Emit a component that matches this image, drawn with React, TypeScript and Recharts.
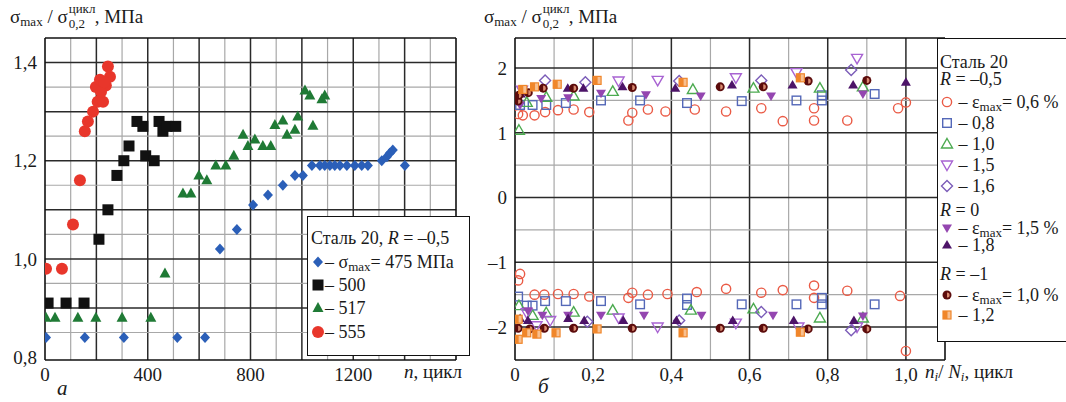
import React from "react";
import { ScatterChart, Scatter, XAxis, YAxis, ReferenceLine } from "recharts";

type Pt = [number, number];

const SERIF = '"Liberation Serif", "Times New Roman", Tinos, "DejaVu Serif", serif';

// left panel (а): sigma_max / sigma_0,2 vs n
const leftXTicks = [0, 400, 800, 1200];
const leftYTicks = [0.8, 1.0, 1.2, 1.4];
const leftMajorX = [200, 400, 600, 800, 1000, 1200, 1400];
const leftMinorX = [100, 300, 500, 700, 900, 1100, 1300, 1500];
const leftMajorY = [0.9, 1.0, 1.1, 1.2, 1.3, 1.4];
const leftMinorY = [0.85, 0.95, 1.05, 1.15, 1.25, 1.35];

const blue475: Pt[] = [
  [4, 0.84], [155, 0.84], [307, 0.84], [515, 0.84], [623, 0.84], [681, 1.02],
  [747, 1.06], [810, 1.11], [868, 1.13], [926, 1.15], [973, 1.17], [1004, 1.17],
  [1039, 1.19], [1070, 1.19], [1089, 1.19], [1109, 1.19], [1128, 1.19], [1148, 1.19],
  [1175, 1.19], [1206, 1.19], [1233, 1.19], [1257, 1.19], [1311, 1.2], [1331, 1.208],
  [1342, 1.215], [1354, 1.222], [1401, 1.19],
];
const black500: Pt[] = [
  [12, 0.91], [82, 0.91], [152, 0.91], [210, 1.04], [245, 1.1], [280, 1.17],
  [307, 1.2], [327, 1.23], [358, 1.28], [381, 1.27], [392, 1.21], [425, 1.2],
  [444, 1.28], [459, 1.26], [474, 1.27], [509, 1.27],
];
const green517: Pt[] = [
  [4, 0.88], [39, 0.88], [128, 0.88], [198, 0.88], [300, 0.88], [412, 0.88],
  [467, 0.97], [537, 1.133], [568, 1.133], [599, 1.17], [630, 1.16], [665, 1.19],
  [704, 1.19], [735, 1.21], [771, 1.253], [790, 1.23], [817, 1.243], [848, 1.23],
  [879, 1.23], [895, 1.273], [926, 1.282], [942, 1.253], [973, 1.263], [984, 1.29],
  [1012, 1.343], [1031, 1.333], [1043, 1.271], [1078, 1.325], [1089, 1.333],
];
const red555: Pt[] = [
  [4, 0.98], [66, 0.98], [109, 1.07], [136, 1.16], [155, 1.26], [167, 1.28],
  [187, 1.3], [205, 1.32], [226, 1.32], [198, 1.35], [214, 1.365], [237, 1.353],
  [253, 1.371], [245, 1.392], [218, 1.34], [230, 1.36],
];

// right panel (б): sigma_max / sigma_0,2 vs ni/Ni
const rightXTicks = [0, 0.2, 0.4, 0.6, 0.8, 1.0];
const rightYTicks = [-2, -1, 0, 1, 2];
const rightMajorX = [0.2, 0.4, 0.6, 0.8, 1.0];
const rightMinorX = [0.1, 0.3, 0.5, 0.7, 0.9];
const rightMajorY = [-2, -1, 0, 1, 2];
const rightMinorY = [-1.5, -0.5, 0.5, 1.5];

const eps06: Pt[] = [
  [0.008, 1.29], [0.02, 1.27], [0.05, 1.27], [0.077, 1.32], [0.11, 1.35], [0.15, 1.36],
  [0.19, 1.32], [0.29, 1.19], [0.3, 1.31], [0.34, 1.36], [0.385, 1.33], [0.46, 1.36],
  [0.54, 1.33], [0.63, 1.38], [0.685, 1.18], [0.765, 1.38], [0.765, 1.19], [0.85, 1.19],
  [0.98, 1.38], [1.0, 1.47],
  [0.008, -1.28], [0.013, -1.18], [0.05, -1.5], [0.075, -1.5], [0.11, -1.49], [0.15, -1.49],
  [0.19, -1.53], [0.29, -1.55], [0.3, -1.47], [0.34, -1.5], [0.39, -1.49], [0.465, -1.46],
  [0.54, -1.41], [0.63, -1.47], [0.685, -1.43], [0.765, -1.36], [0.765, -1.55], [0.85, -1.44],
  [0.985, -1.52], [1.0, -2.37],
];
const eps08: Pt[] = [
  [0.013, 1.43], [0.045, 1.43], [0.08, 1.43], [0.13, 1.46], [0.22, 1.5], [0.32, 1.5],
  [0.44, 1.46], [0.58, 1.49], [0.72, 1.5], [0.785, 1.5], [0.785, 1.58], [0.92, 1.6],
  [0.008, -1.53], [0.03, -1.67], [0.045, -1.67], [0.077, -1.6], [0.13, -1.6], [0.22, -1.6],
  [0.32, -1.65], [0.44, -1.56], [0.44, -1.66], [0.58, -1.65], [0.72, -1.65], [0.785, -1.55],
  [0.785, -1.65], [0.92, -1.65],
];
const eps10: Pt[] = [
  [0.01, 1.04], [0.03, 1.47], [0.08, 1.55], [0.15, 1.57], [0.25, 1.64], [0.455, 1.67],
  [0.61, 1.69], [0.78, 1.69], [0.89, 1.71],
  [0.01, -1.67], [0.045, -1.82], [0.08, -1.78], [0.15, -1.77], [0.25, -1.74], [0.45, -1.74],
  [0.61, -1.72], [0.78, -1.86], [0.89, -1.86],
];
const eps15: Pt[] = [
  [0.018, 1.66], [0.265, 1.8], [0.365, 1.81], [0.565, 1.85], [0.72, 1.93], [0.875, 2.15],
  [0.03, -1.78], [0.055, -1.98], [0.09, -1.9], [0.265, -1.86], [0.365, -2.0], [0.565, -1.94],
  [0.725, -2.0], [0.875, -2.0],
];
const eps16: Pt[] = [
  [0.077, 1.81], [0.18, 1.78], [0.42, 1.8], [0.63, 1.81], [0.86, 1.97],
  [0.185, -1.92], [0.42, -1.9], [0.63, -1.77], [0.86, -2.05],
];
const r0eps15: Pt[] = [
  [0.013, 1.43], [0.067, 1.53], [0.136, 1.54], [0.22, 1.61], [0.335, 1.59], [0.475, 1.57],
  [0.655, 1.57], [0.89, 1.6],
  [0.033, -1.75], [0.07, -1.82], [0.136, -1.82], [0.22, -1.82], [0.33, -1.82], [0.477, -1.82],
  [0.66, -1.82], [0.89, -1.83],
];
const r0eps18: Pt[] = [
  [0.015, 1.6], [0.135, 1.69], [0.175, 1.69], [0.275, 1.71], [0.41, 1.69], [0.555, 1.74],
  [0.71, 1.74], [0.865, 1.74], [1.0, 1.78],
  [0.013, -1.87], [0.033, -1.9], [0.136, -1.87], [0.177, -1.9], [0.277, -1.9], [0.413, -1.9],
  [0.557, -1.9], [0.713, -1.9], [0.867, -1.9],
];
const rm1eps10: Pt[] = [
  [0.008, 1.49], [0.01, 1.58], [0.034, 1.62], [0.072, 1.69], [0.15, 1.69], [0.3, 1.7],
  [0.525, 1.71], [0.635, 1.71], [0.75, 1.8], [0.9, 1.81],
  [0.008, -2.02], [0.038, -2.03], [0.075, -2.02], [0.15, -2.02], [0.3, -2.02], [0.525, -2.02],
  [0.635, -2.02], [0.75, -2.03], [0.9, -2.03],
];
const rm1eps12: Pt[] = [
  [0.02, 1.67], [0.05, 1.71], [0.108, 1.75], [0.21, 1.81], [0.43, 1.78], [0.73, 1.85],
  [0.008, -1.88], [0.008, -2.19], [0.03, -2.09], [0.056, -2.11], [0.105, -2.09], [0.21, -2.03],
  [0.43, -2.09], [0.73, -2.08],
];

type Kind =
  | "diamond" | "square" | "triangle" | "circle"
  | "oCircle" | "oSquare" | "oTri" | "oTriDown" | "oDiamond"
  | "triDown" | "tri" | "halfCircle" | "halfSquare";

const C = {
  blue: "#2b5fb8",
  black: "#111111",
  green: "#1f7a35",
  red: "#e8362b",
  oRed: "#ea5a45",
  oBlue: "#5468b8",
  oGreen: "#4caa50",
  oPurple: "#a863d2",
  oDiamond: "#7b5cb8",
  fPurple: "#9446b0",
  fDark: "#4d1468",
  halfCirc: "#5c0c0c",
  halfSq: "#f0862a",
};

function marker(kind: Kind, cx: number, cy: number) {
  switch (kind) {
    case "diamond":
      return <polygon points={`${cx},${cy - 5.5} ${cx + 5},${cy} ${cx},${cy + 5.5} ${cx - 5},${cy}`} fill={C.blue} />;
    case "square":
      return <rect x={cx - 5.5} y={cy - 5.5} width={11} height={11} fill={C.black} />;
    case "triangle":
      return <polygon points={`${cx},${cy - 6} ${cx + 5.5},${cy + 4} ${cx - 5.5},${cy + 4}`} fill={C.green} />;
    case "circle":
      return <circle cx={cx} cy={cy} r={6} fill={C.red} />;
    case "oCircle":
      return <circle cx={cx} cy={cy} r={4.6} fill="none" stroke={C.oRed} strokeWidth={1.4} />;
    case "oSquare":
      return <rect x={cx - 4.3} y={cy - 4.3} width={8.6} height={8.6} fill="none" stroke={C.oBlue} strokeWidth={1.4} />;
    case "oTri":
      return <polygon points={`${cx},${cy - 5.5} ${cx + 5.5},${cy + 4} ${cx - 5.5},${cy + 4}`} fill="none" stroke={C.oGreen} strokeWidth={1.4} />;
    case "oTriDown":
      return <polygon points={`${cx},${cy + 5.5} ${cx + 5.5},${cy - 4} ${cx - 5.5},${cy - 4}`} fill="none" stroke={C.oPurple} strokeWidth={1.4} />;
    case "oDiamond":
      return <polygon points={`${cx},${cy - 5.5} ${cx + 5.5},${cy} ${cx},${cy + 5.5} ${cx - 5.5},${cy}`} fill="none" stroke={C.oDiamond} strokeWidth={1.4} />;
    case "triDown":
      return <polygon points={`${cx},${cy + 5} ${cx + 5},${cy - 3.5} ${cx - 5},${cy - 3.5}`} fill={C.fPurple} />;
    case "tri":
      return <polygon points={`${cx},${cy - 5} ${cx + 5},${cy + 3.5} ${cx - 5},${cy + 3.5}`} fill={C.fDark} />;
    case "halfCircle":
      return (
        <g>
          <circle cx={cx} cy={cy} r={4.5} fill={C.halfCirc} />
          <path d={`M${cx},${cy - 2.6} A2.6,2.6 0 0,1 ${cx},${cy + 2.6} Z`} fill="#d88a70" />
        </g>
      );
    case "halfSquare":
      return (
        <g>
          <rect x={cx - 4} y={cy - 4} width={8} height={8} fill="#f8c090" stroke={C.halfSq} strokeWidth={1.2} />
          <rect x={cx - 4} y={cy - 4} width={4.5} height={8} fill={C.halfSq} />
        </g>
      );
  }
}

function Icon({ kind }: { kind: Kind }) {
  return (
    <svg width={14} height={14} style={{ verticalAlign: "-1px", overflow: "visible" }}>
      {marker(kind, 7, 7)}
    </svg>
  );
}

const toPts = (arr: Pt[]) => arr.map(([x, y]) => ({ x, y }));
const comma = (v: number) => v.toFixed(1).replace(".", ",");

const tickStyle = { fill: "#1a1a1a", fontSize: 19, fontFamily: SERIF };

function gridLines(major: number[], minor: number[], axis: "x" | "y") {
  const out: React.ReactNode[] = [];
  minor.forEach((v) =>
    out.push(
      axis === "x" ? (
        <ReferenceLine key={`mx${v}`} x={v} stroke="#a8a8a8" strokeWidth={1.2} />
      ) : (
        <ReferenceLine key={`my${v}`} y={v} stroke="#a8a8a8" strokeWidth={1.2} />
      )
    )
  );
  major.forEach((v) =>
    out.push(
      axis === "x" ? (
        <ReferenceLine key={`Mx${v}`} x={v} stroke="#2a2a2a" strokeWidth={1.5} />
      ) : (
        <ReferenceLine key={`My${v}`} y={v} stroke="#2a2a2a" strokeWidth={1.5} />
      )
    )
  );
  return out;
}

const subSt: React.CSSProperties = { fontSize: 13, position: "relative", top: 3, verticalAlign: "baseline" };

function Title({ left }: { left: number }) {
  return (
    <div style={{ position: "absolute", left, top: 3, fontFamily: SERIF, fontSize: 19, color: "#1a1a1a", whiteSpace: "nowrap", lineHeight: "24px" }}>
      σ<span style={subSt}>max</span> / σ
      <span style={{ position: "relative", display: "inline-block", width: 27, height: 20 }}>
        <span style={{ position: "absolute", left: 1, top: -6, fontSize: 13 }}>цикл</span>
        <span style={{ position: "absolute", left: 1, top: 9, fontSize: 13 }}>0,2</span>
      </span>
      , МПа
    </div>
  );
}

const leftLegendRows: { t: number; c: React.ReactNode }[] = [
  { t: 22, c: <>Сталь 20, <i>R</i> = –0,5</> },
  { t: 46, c: <><Icon kind="diamond" />– σ<span style={subSt}>max</span>= 475 МПа</> },
  { t: 69, c: <><Icon kind="square" />– 500</> },
  { t: 92, c: <><Icon kind="triangle" />– 517</> },
  { t: 116, c: <><Icon kind="circle" />– 555</> },
];

const rightLegendRows: { t: number; c: React.ReactNode }[] = [
  { t: 24, c: <>Сталь 20</> },
  { t: 41, c: <><i>R</i> = –0,5</> },
  { t: 64, c: <><Icon kind="oCircle" /> – ε<span style={subSt}>max</span>= 0,6 %</> },
  { t: 85, c: <><Icon kind="oSquare" /> – 0,8</> },
  { t: 106, c: <><Icon kind="oTri" /> – 1,0</> },
  { t: 127, c: <><Icon kind="oTriDown" /> – 1,5</> },
  { t: 148, c: <><Icon kind="oDiamond" /> – 1,6</> },
  { t: 172, c: <><i>R</i> = 0</> },
  { t: 190, c: <><Icon kind="triDown" /> – ε<span style={subSt}>max</span>= 1,5 %</> },
  { t: 207, c: <><Icon kind="tri" /> – 1,8</> },
  { t: 236, c: <><i>R</i> = –1</> },
  { t: 257, c: <><Icon kind="halfCircle" /> – ε<span style={subSt}>max</span>= 1,0 %</> },
  { t: 277, c: <><Icon kind="halfSquare" /> – 1,2</> },
];

export default function App() {
  const series = (data: Pt[], kind: Kind, name: string) => (
    <Scatter
      key={name}
      name={name}
      data={toPts(data)}
      isAnimationActive={false}
      shape={(p: any) => marker(kind, p.cx, p.cy)}
    />
  );

  return (
    <div style={{ position: "absolute", left: 0, top: 0, width: 1066, height: 402, background: "#fff", overflow: "hidden", fontFamily: SERIF }}>
      {/* left chart */}
      <div style={{ position: "absolute", left: 0, top: 0 }}>
        <ScatterChart width={470} height={402} margin={{ top: 38, right: 14, bottom: 12, left: 3 }}>
          <XAxis
            type="number"
            dataKey="x"
            domain={[0, 1600]}
            ticks={leftXTicks}
            interval={0}
            allowDataOverflow
            tick={tickStyle}
            tickLine={false}
            axisLine={{ stroke: "#111", strokeWidth: 1.6 }}
            height={30}
          />
          <YAxis
            type="number"
            dataKey="y"
            domain={[0.794, 1.45]}
            ticks={leftYTicks}
            interval={0}
            allowDataOverflow
            tick={tickStyle}
            tickFormatter={comma}
            tickLine={false}
            axisLine={{ stroke: "#111", strokeWidth: 1.6 }}
            width={42}
          />
          {gridLines(leftMajorX, leftMinorX, "x")}
          {gridLines(leftMajorY, leftMinorY, "y")}
          <ReferenceLine y={1.45} stroke="#111" strokeWidth={1.6} />
          <ReferenceLine x={1600} stroke="#111" strokeWidth={1.6} />
          {series(blue475, "diamond", "475")}
          {series(black500, "square", "500")}
          {series(green517, "triangle", "517")}
          {series(red555, "circle", "555")}
        </ScatterChart>
      </div>

      {/* right chart */}
      <div style={{ position: "absolute", left: 470, top: 0 }}>
        <ScatterChart width={490} height={402} margin={{ top: 38, right: 15, bottom: 12, left: 3 }}>
          <XAxis
            type="number"
            dataKey="x"
            domain={[0, 1.1]}
            ticks={rightXTicks}
            interval={0}
            allowDataOverflow
            tick={tickStyle}
            tickFormatter={(v: number) => (v === 0 ? "0" : comma(v))}
            tickLine={false}
            axisLine={{ stroke: "#111", strokeWidth: 1.6 }}
            height={30}
          />
          <YAxis
            type="number"
            dataKey="y"
            domain={[-2.51, 2.465]}
            ticks={rightYTicks}
            interval={0}
            allowDataOverflow
            tick={tickStyle}
            tickFormatter={(v: number) => (v < 0 ? `–${Math.abs(v)}` : String(v))}
            tickLine={false}
            axisLine={{ stroke: "#111", strokeWidth: 1.6 }}
            width={42}
          />
          {gridLines(rightMajorX, rightMinorX, "x")}
          {gridLines(rightMajorY, rightMinorY, "y")}
          <ReferenceLine y={2.465} stroke="#111" strokeWidth={1.6} />
          <ReferenceLine x={1.1} stroke="#111" strokeWidth={1.6} />
          {series(eps06, "oCircle", "0.6")}
          {series(eps08, "oSquare", "0.8")}
          {series(eps10, "oTri", "1.0")}
          {series(eps15, "oTriDown", "1.5")}
          {series(eps16, "oDiamond", "1.6")}
          {series(r0eps15, "triDown", "r0 1.5")}
          {series(r0eps18, "tri", "r0 1.8")}
          {series(rm1eps10, "halfCircle", "r-1 1.0")}
          {series(rm1eps12, "halfSquare", "r-1 1.2")}
        </ScatterChart>
      </div>

      <Title left={10} />
      <Title left={484} />

      {/* axis captions */}
      <div style={{ position: "absolute", left: 404, top: 361, fontSize: 19, color: "#1a1a1a", whiteSpace: "nowrap" }}>
        <i>n</i>, цикл
      </div>
      <div style={{ position: "absolute", left: 57, top: 376, fontSize: 21, fontStyle: "italic", color: "#1a1a1a" }}>а</div>
      <div style={{ position: "absolute", left: 925, top: 361, fontSize: 19, color: "#1a1a1a", whiteSpace: "nowrap" }}>
        <i>n</i><span style={subSt}><i>i</i></span>/ <i>N</i><span style={subSt}><i>i</i></span>, цикл
      </div>
      <div style={{ position: "absolute", left: 538, top: 374, fontSize: 21, fontStyle: "italic", color: "#1a1a1a" }}>б</div>

      {/* left legend */}
      <div style={{ position: "absolute", left: 307, top: 216, width: 163, height: 140, background: "#fff", border: "1.6px solid #111", fontSize: 18, color: "#1a1a1a", boxSizing: "border-box", whiteSpace: "nowrap" }}>
        {leftLegendRows.map((r, i) => (
          <div key={i} style={{ position: "absolute", left: 3, top: r.t - 12, lineHeight: "22px" }}>
            {r.c}
          </div>
        ))}
      </div>

      {/* right legend */}
      <div style={{ position: "absolute", left: 937, top: 38, width: 140, height: 304, background: "#fff", border: "1.6px solid #111", fontSize: 18, color: "#1a1a1a", boxSizing: "border-box", whiteSpace: "nowrap" }}>
        {rightLegendRows.map((r, i) => (
          <div key={i} style={{ position: "absolute", left: 2, top: r.t - 12, lineHeight: "22px" }}>
            {r.c}
          </div>
        ))}
      </div>
    </div>
  );
}
